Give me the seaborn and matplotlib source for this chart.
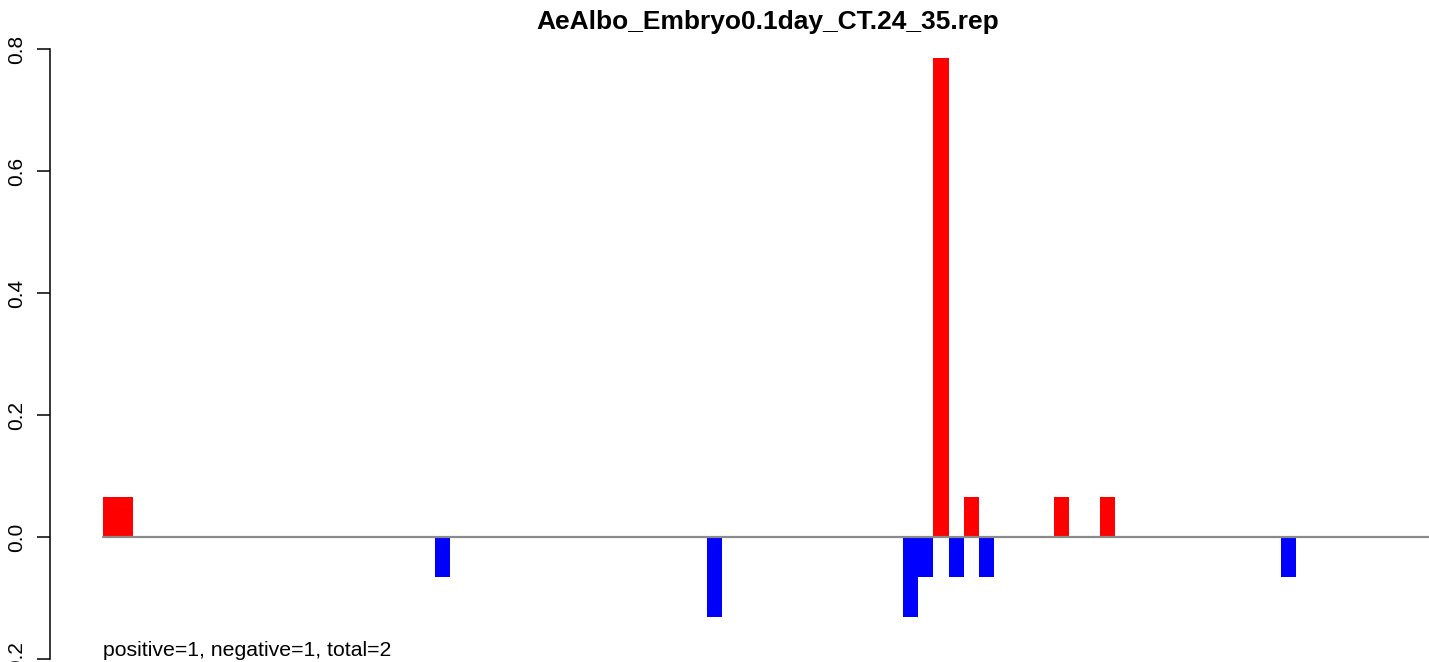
import numpy as np
import pandas as pd
import matplotlib
matplotlib.use('Agg')
import matplotlib.pyplot as plt
import seaborn as sns

# bar data (88 positions, unit height ~0.0654)
n_pos = 88
unit = 0.0654
positions = [0, 1, 22, 40, 53, 54, 55, 56, 57, 58, 63, 66, 78]
counts = [1, 1, -1, -2, -2, -1, 12, -1, 1, -1, 1, 1, -1]
title = 'AeAlbo_Embryo0.1day_CT.24_35.rep'
note = 'positive=1, negative=1, total=2'
ytick_vals = [-0.2, 0.0, 0.2, 0.4, 0.6, 0.8]

df = pd.DataFrame({'pos': positions, 'val': np.array(counts) * unit})
df['sign'] = np.where(df['val'] > 0, 'pos', 'neg')

sns.set_style('white')
plt.rcParams['font.family'] = ['Liberation Sans', 'DejaVu Sans']
plt.rcParams['text.color'] = 'black'
plt.rcParams['ytick.color'] = 'black'
plt.rcParams['ytick.labelcolor'] = 'black'

W, H = 1429, 662
fig = plt.figure(figsize=(W / 100, H / 100), dpi=100)
ax = fig.add_axes([0, 0, 1, 1])

sns.barplot(data=df, x='pos', y='val', hue='sign', order=list(range(n_pos)),
            palette={'pos': '#ff0000', 'neg': '#0000ff'}, saturation=1,
            dodge=False, width=1.0, linewidth=0, legend=False, ax=ax)

# pixel mapping: slot 0 starts at x=103, ~15.1 px per slot
slot = 15.1
ax.set_xlim(-0.5 - 103 / slot, -0.5 + (W - 103) / slot)
# y: 0 at pixel 537, 0.2 per 122 px
per_px = 0.2 / 122
ax.set_ylim(-(H - 537) * per_px, 537 * per_px)

ax.axhline(0, xmin=103 / W, xmax=1, color='#8a8a8a', lw=1.6, zorder=5)

for s in ['top', 'right', 'bottom']:
    ax.spines[s].set_visible(False)
ax.spines['left'].set_position(('axes', 50 / W))
ax.spines['left'].set_bounds(-0.2, 0.8)
ax.spines['left'].set_color('black')
ax.spines['left'].set_linewidth(1.1)
ax.set_xticks([])
ax.set_yticks(ytick_vals)
ax.set_yticklabels([f'{v:.1f}' for v in ytick_vals], rotation=90, va='center',
                   fontsize=15)
ax.tick_params(axis='y', direction='out', length=9.4, width=1.1, pad=8,
               left=True, color='black')
ax.set_xlabel('')
ax.set_ylabel('')

fig.text(768 / W, 1 - 22 / H, title, ha='center', va='center',
         fontsize=19, fontweight='bold')
fig.text(103 / W, 1 - 650 / H, note, ha='left', va='center', fontsize=15.3)

fig.savefig('out.png', dpi=100)
